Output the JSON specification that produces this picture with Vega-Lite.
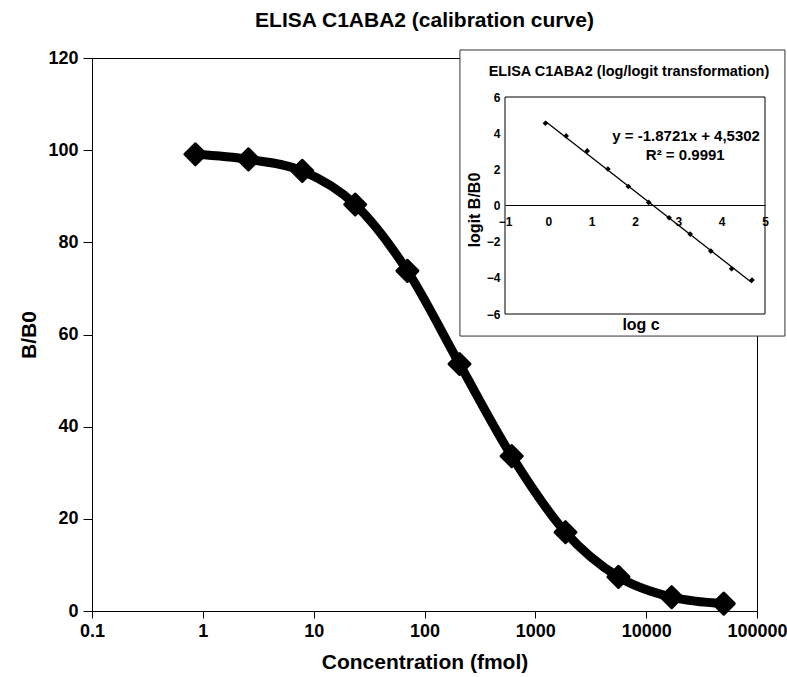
{
  "$schema": "https://vega.github.io/schema/vega-lite/v6.json",
  "autosize": {"type": "none"},
  "padding": {"left": 92, "top": 58, "right": 30, "bottom": 66},
  "width": 665,
  "height": 553,
  "background": "white",
  "config": {
    "font": "Liberation Sans",
    "view": {"stroke": "black", "strokeWidth": 1},
    "axis": {"labelFont": "Liberation Sans", "titleFont": "Liberation Sans", "labelColor": "black", "titleColor": "black", "domainColor": "black", "tickColor": "black", "labelFontWeight": "bold", "titleFontWeight": "bold", "grid": false}
  },
  "title": {"text": "ELISA C1ABA2 (calibration curve)", "fontSize": 21, "fontWeight": "bold", "font": "Liberation Sans", "color": "black", "anchor": "middle", "frame": "group", "offset": 18},
  "data": {"values": [
    {"conc": 0.857, "bb0": 99.1, "logc": -0.067, "logit": 4.55},
    {"conc": 2.58, "bb0": 98.0, "logc": 0.411, "logit": 3.85},
    {"conc": 7.89, "bb0": 95.5, "logc": 0.897, "logit": 3.02},
    {"conc": 23.7, "bb0": 88.2, "logc": 1.375, "logit": 2.02},
    {"conc": 70.1, "bb0": 73.8, "logc": 1.846, "logit": 1.05},
    {"conc": 207, "bb0": 53.6, "logc": 2.316, "logit": 0.17},
    {"conc": 612, "bb0": 33.6, "logc": 2.787, "logit": -0.68},
    {"conc": 1871, "bb0": 17.1, "logc": 3.272, "logit": -1.58},
    {"conc": 5623, "bb0": 7.4, "logc": 3.75, "logit": -2.52},
    {"conc": 16982, "bb0": 3.0, "logc": 4.23, "logit": -3.5},
    {"conc": 50119, "bb0": 1.6, "logc": 4.7, "logit": -4.12}
  ]},
  "layer": [
    {
      "layer": [
        {
          "mark": {"type": "line", "color": "black", "strokeWidth": 9, "interpolate": "monotone", "strokeCap": "round", "strokeJoin": "round"},
          "encoding": {
            "x": {"field": "conc", "type": "quantitative", "scale": {"type": "log", "domain": [0.1, 100000]},
              "axis": {"orient": "bottom", "title": "Concentration (fmol)", "values": [0.1, 1, 10, 100, 1000, 10000, 100000], "format": "~g", "labelFontSize": 18, "titleFontSize": 21, "tickSize": 7, "labelPadding": 4, "titlePadding": 11, "labelFlush": false, "labelOverlap": false}},
            "y": {"field": "bb0", "type": "quantitative", "scale": {"domain": [0, 120]},
              "axis": {"orient": "left", "title": "B/B0", "values": [0, 20, 40, 60, 80, 100, 120], "labelFontSize": 18, "titleFontSize": 21, "tickSize": 9, "labelPadding": 5, "titlePadding": 8}}
          }
        },
        {
          "mark": {"type": "point", "shape": "diamond", "filled": true, "color": "black", "size": 440, "stroke": "black", "strokeWidth": 3, "strokeJoin": "round", "opacity": 1},
          "encoding": {
            "x": {"field": "conc", "type": "quantitative"},
            "y": {"field": "bb0", "type": "quantitative"}
          }
        }
      ]
    },
    {
      "layer": [
        {
          "data": {"values": [{}]},
          "mark": {"type": "rect", "fill": "white", "stroke": "#333333", "strokeWidth": 1},
          "encoding": {
            "x": {"datum": -2.04, "type": "quantitative", "scale": {"domain": [-1, 5], "range": [413, 673], "nice": false, "zero": false},
              "axis": {"orient": "bottom", "offset": -406, "title": null, "values": [-1, 0, 1, 2, 3, 4, 5], "format": "d", "ticks": false, "domain": true, "labelFontSize": 12, "labelPadding": 11, "labelFlush": false, "labelOverlap": false, "zindex": 2}},
            "x2": {"datum": 5.46},
            "y": {"datum": 8.6, "type": "quantitative", "scale": {"domain": [-6, 6], "range": [256, 39], "nice": false, "zero": false},
              "axis": {"orient": "left", "offset": -413, "title": null, "values": [-6, -4, -2, 0, 2, 4, 6], "format": "d", "ticks": false, "domain": false, "labelFontSize": 12, "labelPadding": 5, "labelFlush": false, "labelOverlap": false, "zindex": 2}},
            "y2": {"datum": -7.22}
          }
        },
        {
          "data": {"values": [{}]},
          "mark": {"type": "rect", "fill": null, "fillOpacity": 0, "stroke": "black", "strokeWidth": 1},
          "encoding": {
            "x": {"datum": -1, "type": "quantitative"},
            "x2": {"datum": 5},
            "y": {"datum": 6, "type": "quantitative"},
            "y2": {"datum": -6}
          }
        },
        {
          "data": {"values": [{"lx": -0.07, "ly": 4.66}, {"lx": 4.7, "ly": -4.27}]},
          "mark": {"type": "line", "color": "black", "strokeWidth": 1.3},
          "encoding": {
            "x": {"field": "lx", "type": "quantitative"},
            "y": {"field": "ly", "type": "quantitative"}
          }
        },
        {
          "mark": {"type": "point", "shape": "diamond", "filled": true, "color": "black", "size": 32, "opacity": 1},
          "encoding": {
            "x": {"field": "logc", "type": "quantitative"},
            "y": {"field": "logit", "type": "quantitative"}
          }
        },
        {
          "data": {"values": [{}]},
          "mark": {"type": "text", "text": "ELISA C1ABA2 (log/logit transformation)", "fontSize": 14.5, "fontWeight": "bold", "color": "black", "align": "center", "baseline": "middle"},
          "encoding": {"x": {"datum": 1.86, "type": "quantitative"}, "y": {"datum": 7.38, "type": "quantitative"}}
        },
        {
          "data": {"values": [{}]},
          "mark": {"type": "text", "text": "y = -1.8721x + 4,5302", "fontSize": 15, "fontWeight": "bold", "color": "black", "align": "center", "baseline": "middle"},
          "encoding": {"x": {"datum": 3.18, "type": "quantitative"}, "y": {"datum": 3.84, "type": "quantitative"}}
        },
        {
          "data": {"values": [{}]},
          "mark": {"type": "text", "text": "R² = 0.9991", "fontSize": 15, "fontWeight": "bold", "color": "black", "align": "center", "baseline": "middle"},
          "encoding": {"x": {"datum": 3.16, "type": "quantitative"}, "y": {"datum": 2.79, "type": "quantitative"}}
        },
        {
          "data": {"values": [{}]},
          "mark": {"type": "text", "text": "log c", "fontSize": 16, "fontWeight": "bold", "color": "black", "align": "center", "baseline": "middle"},
          "encoding": {"x": {"datum": 2.14, "type": "quantitative"}, "y": {"datum": -6.61, "type": "quantitative"}}
        },
        {
          "data": {"values": [{}]},
          "mark": {"type": "text", "text": "logit B/B0", "fontSize": 16, "fontWeight": "bold", "color": "black", "align": "center", "baseline": "middle", "angle": 270},
          "encoding": {"x": {"datum": -1.69, "type": "quantitative"}, "y": {"datum": -0.25, "type": "quantitative"}}
        }
      ]
    }
  ],
  "resolve": {"scale": {"x": "independent", "y": "independent"}, "axis": {"x": "independent", "y": "independent"}}
}
